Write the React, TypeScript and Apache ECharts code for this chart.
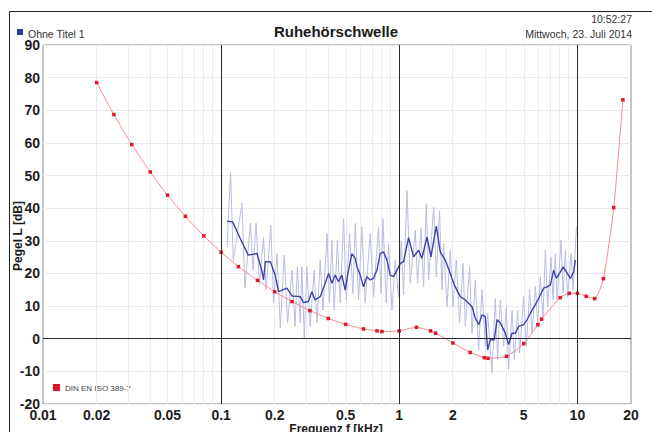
import React, { useEffect, useRef } from "react";
import * as echarts from "echarts";

// DIN EN ISO 389-7 threshold (kHz, dB)
const isoFreq = [0.02, 0.025, 0.0315, 0.04, 0.05, 0.063, 0.08, 0.1, 0.125, 0.16, 0.2, 0.25, 0.315, 0.4, 0.5, 0.63, 0.75, 0.8, 1, 1.25, 1.5, 1.6, 2, 2.5, 3, 3.15, 4, 5, 6, 6.3, 8, 9, 10, 11.2, 12.5, 14, 16, 18];
const isoLevel = [78.5, 68.7, 59.5, 51.1, 44.0, 37.5, 31.5, 26.5, 22.1, 17.9, 14.4, 11.4, 8.6, 6.2, 4.4, 3.0, 2.4, 2.2, 2.4, 3.5, 2.4, 1.7, -1.3, -4.2, -5.8, -6.0, -5.4, -1.5, 4.3, 6.0, 12.6, 13.9, 13.9, 13.0, 12.3, 18.4, 40.2, 73.2];

// measured, smoothed (kHz, dB)
const smoothFreq = [0.108, 0.116, 0.128, 0.142, 0.159, 0.169, 0.173, 0.177, 0.189, 0.201, 0.210, 0.234, 0.250, 0.278, 0.290, 0.309, 0.323, 0.337, 0.360, 0.384, 0.401, 0.419, 0.437, 0.456, 0.476, 0.497, 0.519, 0.542, 0.566, 0.579, 0.604, 0.630, 0.658, 0.687, 0.717, 0.749, 0.782, 0.816, 0.853, 0.890, 0.929, 0.971, 1.013, 1.057, 1.128, 1.203, 1.284, 1.341, 1.431, 1.507, 1.614, 1.699, 1.813, 1.934, 2.037, 2.201, 2.349, 2.561, 2.673, 2.790, 2.915, 3.042, 3.134, 3.246, 3.418, 3.539, 3.693, 3.940, 4.112, 4.297, 4.484, 4.680, 4.992, 5.217, 5.566, 5.808, 6.197, 6.467, 6.758, 7.053, 7.361, 7.621, 8.027, 8.313, 8.675, 9.135, 9.533, 9.745];
const smoothLevel = [36.0, 35.8, 30.7, 25.6, 26.1, 21.0, 18.0, 23.6, 23.6, 19.5, 14.4, 15.5, 13.1, 12.9, 11.1, 11.4, 14.4, 11.9, 12.9, 17.0, 20.0, 17.0, 19.5, 17.5, 19.5, 14.9, 21.0, 26.1, 24.6, 22.0, 19.5, 15.9, 19.0, 18.0, 18.5, 21.0, 26.1, 26.6, 24.1, 19.5, 19.0, 21.0, 23.1, 23.6, 31.0, 25.1, 27.1, 24.6, 31.2, 25.1, 34.5, 26.6, 24.1, 20.0, 16.5, 12.9, 11.9, 9.8, 6.3, 4.3, 7.3, 6.8, -3.4, -0.3, -0.3, 5.8, 4.8, 1.7, -1.8, 1.7, 1.7, 3.8, 4.3, 5.8, 8.8, 10.4, 13.4, 15.5, 15.9, 16.5, 21.0, 18.5, 20.5, 22.0, 20.5, 18.5, 20.5, 24.1];

// measured, raw (kHz, dB)
const rawFreq = [0.108, 0.113, 0.117, 0.131, 0.136, 0.146, 0.151, 0.157, 0.164, 0.173, 0.179, 0.190, 0.197, 0.206, 0.215, 0.226, 0.236, 0.250, 0.260, 0.268, 0.278, 0.284, 0.293, 0.303, 0.316, 0.333, 0.345, 0.360, 0.373, 0.393, 0.406, 0.419, 0.431, 0.450, 0.466, 0.487, 0.504, 0.526, 0.549, 0.566, 0.591, 0.617, 0.644, 0.687, 0.717, 0.765, 0.789, 0.810, 0.845, 0.871, 0.910, 0.950, 0.991, 1.026, 1.057, 1.105, 1.153, 1.230, 1.267, 1.324, 1.369, 1.418, 1.461, 1.559, 1.614, 1.684, 1.737, 1.774, 1.854, 1.934, 2.003, 2.090, 2.182, 2.280, 2.349, 2.483, 2.561, 2.673, 2.789, 2.915, 3.042, 3.134, 3.317, 3.462, 3.567, 3.694, 3.855, 3.992, 4.112, 4.297, 4.427, 4.620, 4.741, 4.993, 5.170, 5.396, 5.566, 5.809, 5.984, 6.197, 6.417, 6.611, 6.810, 7.116, 7.303, 7.523, 7.691, 8.099, 8.311, 8.563, 8.821, 9.218, 9.459, 9.872];
const rawLevel = [28, 51, 24, 41.5, 15.5, 35.4, 21, 35.4, 16.5, 31.2, 15, 34.8, 10.9, 26.1, 3.3, 25.6, 4.8, 21, 3.8, 22, 4.8, 22, 0.2, 22, 3.8, 21, 4.8, 24, 8.8, 32.2, 10.9, 30.2, 8.8, 30.2, 10.9, 36.8, 11.9, 32.2, 13.9, 35.3, 11.9, 34.2, 10.9, 32.2, 12.9, 34.2, 13.9, 36.8, 10.9, 29.2, 8.8, 24, 12.9, 30, 13.4, 45.4, 17, 33.2, 17, 33.8, 16, 41.4, 18, 40.3, 19, 39.3, 15, 29.2, 9.8, 27.1, 9.8, 24.1, 4.8, 23.1, 3.8, 22, 1.7, 18, -3.4, 15, -2.3, 7.8, -10.5, 12.4, -6.4, 11.9, -2.3, 9.8, -9.5, 8.8, -6.4, 8.8, -4.4, 12.9, -2.3, 15, 1.7, 16, 4.8, 19, 6.8, 27.1, 9.8, 25.1, 11.9, 26.1, 11.9, 30.2, 13.9, 27.1, 12.9, 26.1, 15, 34.2];

const xTickLabels = [0.01, 0.02, 0.05, 0.1, 0.2, 0.5, 1, 2, 5, 10, 20];
const minorGridFreq = [0.02, 0.03, 0.04, 0.05, 0.06, 0.07, 0.08, 0.09, 0.2, 0.3, 0.4, 0.5, 0.6, 0.7, 0.8, 0.9, 2, 3, 4, 5, 6, 7, 8, 9];
const majorGridFreq = [0.1, 1, 10];
const xMin = 0.01;
const xMax = 20;
const yMin = -20;
const yMax = 90;
const yStep = 10;

const FONT = "'Liberation Sans', Arial, sans-serif";

const pairs = (f: number[], v: number[]) => f.map((x, i) => [Math.log10(x), v[i]]);

export default function App() {
  const ref = useRef<HTMLDivElement>(null);
  useEffect(() => {
    if (!ref.current) return;
    const chart = echarts.init(ref.current, null, { renderer: "svg" });
    const fmt = (v: number) => {
      let best = xTickLabels[0];
      let d = Infinity;
      for (const t of xTickLabels) {
        const dd = Math.abs(Math.log10(t) - v);
        if (dd < d) { d = dd; best = t; }
      }
      return String(best);
    };
    chart.setOption({
      animation: false,
      backgroundColor: "#ffffff",
      grid: { left: 43, right: 21, top: 45, bottom: 28, show: true, borderColor: "#8a8a8a", borderWidth: 1, backgroundColor: "transparent" },
      xAxis: {
        type: "value",
        min: Math.log10(xMin),
        max: Math.log10(xMax),
        axisLine: { show: false },
        axisTick: { show: false },
        splitLine: { show: false },
        axisLabel: {
          customValues: xTickLabels.map((t) => Math.log10(t)),
          formatter: fmt,
          fontFamily: FONT,
          fontWeight: "bold",
          fontSize: 14,
          color: "#1e1e1e",
          margin: 4,
          showMinLabel: true,
          showMaxLabel: true,
        },
      },
      yAxis: {
        type: "value",
        min: yMin,
        max: yMax,
        interval: yStep,
        axisLine: { show: false },
        axisTick: { show: false },
        splitLine: { show: true, lineStyle: { color: "#eaeaf0", width: 1 } },
        axisLabel: {
          fontFamily: FONT,
          fontWeight: "bold",
          fontSize: 14,
          color: "#1e1e1e",
          margin: 3,
          showMinLabel: true,
          showMaxLabel: true,
        },
      },
      series: [
        {
          type: "line",
          name: "raw",
          data: pairs(rawFreq, rawLevel),
          showSymbol: false,
          symbol: "none",
          lineStyle: { color: "#bcbce4", width: 1 },
          z: 2,
          silent: true,
          markLine: {
            silent: true,
            symbol: "none",
            label: { show: false },
            lineStyle: { color: "#ececf2", width: 1, type: "solid" },
            data: minorGridFreq.map((f) => ({ xAxis: Math.log10(f) })),
            z: 1,
          },
        },
        {
          type: "line",
          name: "Ohne Titel 1",
          data: pairs(smoothFreq, smoothLevel),
          showSymbol: false,
          symbol: "none",
          lineStyle: { color: "#3d43a8", width: 1.4 },
          z: 3,
          silent: true,
          markLine: {
            silent: true,
            symbol: "none",
            label: { show: false },
            lineStyle: { color: "#2a2a2a", width: 1, type: "solid" },
            data: [
              ...majorGridFreq.map((f) => ({ xAxis: Math.log10(f) })),
              { yAxis: 0 },
            ],
          },
        },
        {
          type: "line",
          name: "DIN EN ISO 389-7",
          data: pairs(isoFreq, isoLevel),
          symbol: "rect",
          symbolSize: 3.5,
          showSymbol: true,
          itemStyle: { color: "#e3142a" },
          lineStyle: { color: "#f48a8a", width: 1 },
          smooth: 0.2,
          z: 4,
          silent: true,
        },
      ],
      graphic: [
        { type: "line", shape: { x1: 9.5, y1: 11.5, x2: 652, y2: 11.5 }, style: { stroke: "#222", lineWidth: 1 } },
        { type: "line", shape: { x1: 9.5, y1: 11.5, x2: 9.5, y2: 432 }, style: { stroke: "#222", lineWidth: 1 } },
        { type: "text", x: 336, y: 31, style: { text: "Ruhehörschwelle", font: `bold 15px ${FONT}`, fill: "#1a1a1a", textAlign: "center", textVerticalAlign: "middle" } },
        { type: "rect", shape: { x: 17, y: 29, width: 6, height: 6 }, style: { fill: "#2b3a9b" } },
        { type: "text", x: 28, y: 34, style: { text: "Ohne Titel 1", font: `10.5px ${FONT}`, fill: "#333", textAlign: "left", textVerticalAlign: "middle" } },
        { type: "text", x: 632, y: 19, style: { text: "10:52:27", font: `10.5px ${FONT}`, fill: "#333", textAlign: "right", textVerticalAlign: "middle" } },
        { type: "text", x: 632, y: 34, style: { text: "Mittwoch, 23. Juli 2014", font: `10.5px ${FONT}`, fill: "#333", textAlign: "right", textVerticalAlign: "middle" } },
        { type: "rect", shape: { x: 53, y: 384, width: 7, height: 7 }, style: { fill: "#e3142a" } },
        { type: "text", x: 65, y: 388, style: { text: "DIN EN ISO 389-7", font: `8px ${FONT}`, fill: "#444", textAlign: "left", textVerticalAlign: "middle" } },
        { type: "text", x: 18, y: 236, rotation: Math.PI / 2, style: { text: "Pegel L [dB]", font: `bold 12px ${FONT}`, fill: "#1a1a1a", textAlign: "center", textVerticalAlign: "middle" } },
        { type: "text", x: 336, y: 429, style: { text: "Frequenz f [kHz]", font: `bold 12px ${FONT}`, fill: "#1a1a1a", textAlign: "center", textVerticalAlign: "middle" } },
      ],
    });
    return () => chart.dispose();
  }, []);
  return <div ref={ref} style={{ width: 652, height: 432, position: "absolute", left: 0, top: 0 }} />;
}
